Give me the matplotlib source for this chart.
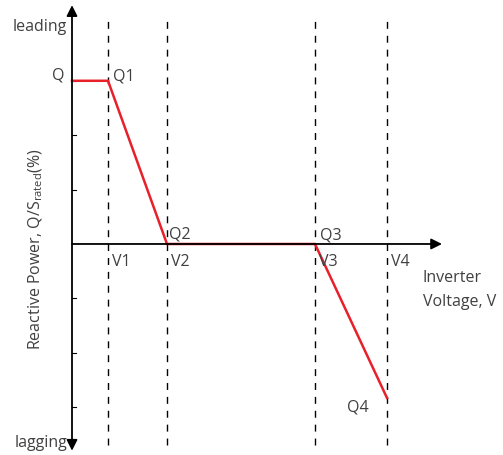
import numpy as np
import matplotlib
matplotlib.use("Agg")
import matplotlib.pyplot as plt

plt.rcParams['font.family'] = ['Open Sans', 'DejaVu Sans']
plt.rcParams['mathtext.fontset'] = 'custom'
plt.rcParams['mathtext.rm'] = 'Open Sans'

TXT = '#404040'

# Volt-var curve (x: inverter voltage, y: reactive power in tick units)
curve_x = [0.0, 0.36, 0.95, 2.43, 3.15]
curve_y = [3.0, 3.0, 0.0, 0.0, -2.83]
point_names = ['Q', 'Q1', 'Q2', 'Q3', 'Q4']

v_pos = [0.36, 0.95, 2.43, 3.15]
v_names = ['V1', 'V2', 'V3', 'V4']

y_ticks = [-3, -2, -1, 1, 2, 3]

fig = plt.figure(figsize=(5.03, 4.55), dpi=100)
ax = fig.add_axes([0, 0, 1, 1])
ax.set_xlim(-0.72, 4.31)
ax.set_ylim(-3.879, 4.485)
ax.axis('off')

# dashed guide lines
for v in v_pos:
    ax.plot([v, v], [-3.70, 4.12], color='black', lw=1.0, ls=(0, (5, 5)))

# axes with arrow heads
ax.annotate('', xy=(0, 4.39), xytext=(0, -3.80),
            arrowprops=dict(arrowstyle='<|-|>', color='black', lw=1.3,
                            mutation_scale=16, shrinkA=0, shrinkB=0))
ax.annotate('', xy=(3.70, 0), xytext=(0, 0),
            arrowprops=dict(arrowstyle='-|>', color='black', lw=1.3,
                            mutation_scale=16, shrinkA=0, shrinkB=0))

# small ticks on the y axis
for t in y_ticks:
    ax.plot([0, 0.035], [t, t], color='black', lw=0.8)

# curve
ax.plot(curve_x, curve_y, color='#e8202a', lw=1.8, solid_joinstyle='miter')

fs = 11.5
ax.text(-0.05, 3.98, 'leading', color=TXT, fontsize=fs, ha='right', va='center')
ax.text(-0.05, -3.66, 'lagging', color=TXT, fontsize=fs, ha='right', va='center')

ax.text(-0.14, 3.1, point_names[0], color=TXT, fontsize=fs, ha='center', va='center')
ax.text(0.41, 3.08, point_names[1], color=TXT, fontsize=fs, ha='left', va='center')
ax.text(0.97, 0.17, point_names[2], color=TXT, fontsize=fs, ha='left', va='center')
ax.text(2.48, 0.16, point_names[3], color=TXT, fontsize=fs, ha='left', va='center')
ax.text(2.75, -3.01, point_names[4], color=TXT, fontsize=fs, ha='left', va='center')

for v, name in zip(v_pos, v_names):
    ax.text(v + 0.04, -0.34, name, color=TXT, fontsize=fs, ha='left', va='center')

ax.text(3.51, -0.63, 'Inverter', color=TXT, fontsize=fs, ha='left', va='center')
ax.text(3.51, -1.07, 'Voltage, V', color=TXT, fontsize=fs, ha='left', va='center')

ax.text(-0.36, -0.1, r'Reactive Power, Q/S$_{\mathregular{rated}}$(%)', color=TXT,
        fontsize=fs, ha='center', va='center', rotation=90)

fig.savefig('out.png', dpi=100)
